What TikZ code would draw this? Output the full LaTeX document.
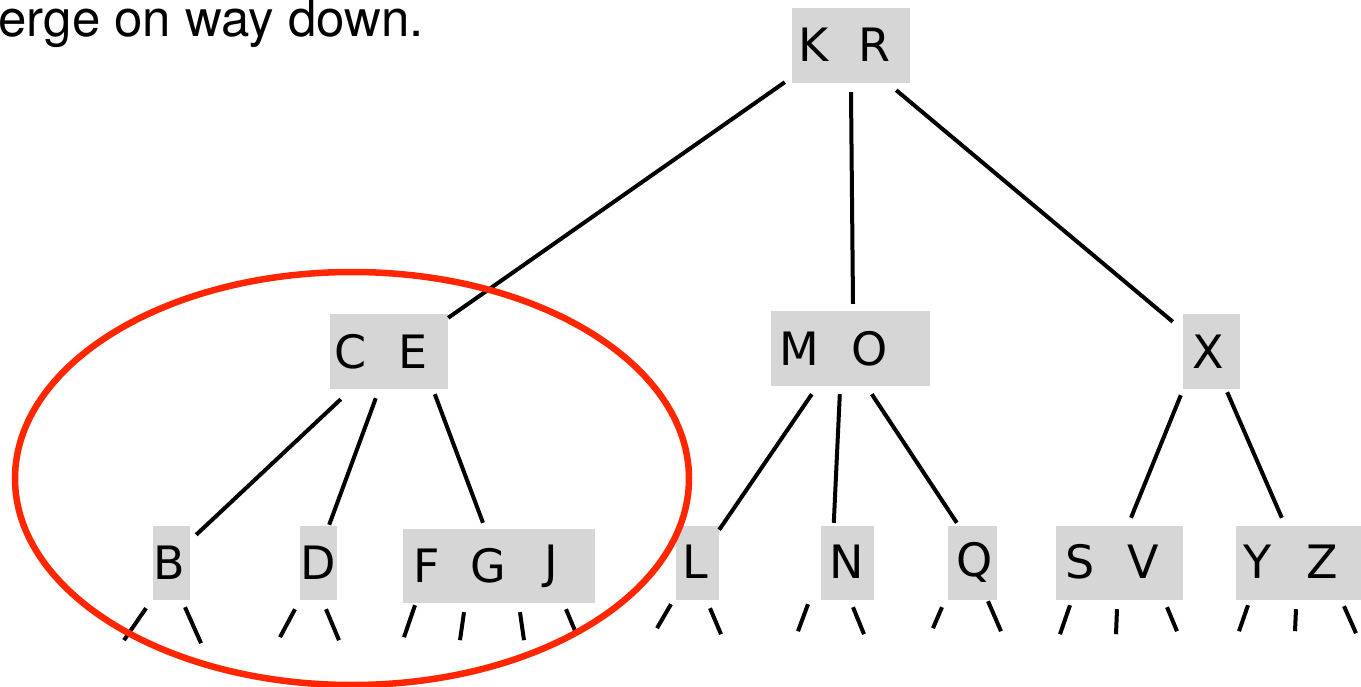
\documentclass[tikz,border=0pt]{standalone}
\usepackage{fontspec}
\setmainfont{DejaVu Sans}
\newfontfamily\headfont{TeX Gyre Heros}
\usetikzlibrary{calc}
\definecolor{boxgray}{HTML}{D6D6D6}
\definecolor{ovalred}{HTML}{FF2600}
\tikzset{
  box/.style={fill=boxgray, draw=none, inner sep=0pt, minimum height=74pt},
  letter/.style={inner sep=0pt, font=\fontsize{46}{46}\selectfont},
  edge/.style={line width=4pt},
  stub/.style={line width=4pt}
}
\begin{document}
\begin{tikzpicture}[x=1pt,y=-1pt]
\useasboundingbox (0,0) rectangle (1361,687);
% heading fragment
\node[anchor=base east, inner sep=0pt, font=\headfont\fontsize{51}{51}\selectfont] (head) at (424,37) {erge on way down.};
% boxes
\node[box, minimum width=118pt, minimum height=75pt] (kr) at (851,45.5) {};
\node[box, minimum width=118pt, minimum height=75pt] (ce) at (389,351.5) {};
\node[box, minimum width=159pt, minimum height=75pt] (mo) at (850.5,348.5) {};
\node[box, minimum width=57pt, minimum height=75pt] (x) at (1211.5,351.5) {};
\node[box, minimum width=37pt] (b) at (171.5,563) {};
\node[box, minimum width=37pt] (d) at (318.5,563) {};
\node[box, minimum width=192pt] (fgj) at (499,566) {};
\node[box, minimum width=43pt] (l) at (697.5,563) {};
\node[box, minimum width=53pt] (n) at (847.5,563) {};
\node[box, minimum width=49pt] (q) at (972.5,563) {};
\node[box, minimum width=127pt] (sv) at (1119.5,563) {};
\node[box, minimum width=125pt] (yz) at (1298.5,563) {};
% letters
\node[letter] (tK) at (814,45) {K};
\node[letter] (tR) at (874,45) {R};
\node[letter] (tC) at (351,352) {C};
\node[letter] (tE) at (413,352) {E};
\node[letter] (tM) at (799,349) {M};
\node[letter] (tO) at (870,349) {O};
\node[letter] (tX) at (1208,352) {X};
\node[letter] (tB) at (169.5,563) {B};
\node[letter] (tD) at (318,563) {D};
\node[letter] (tF) at (427,566) {F};
\node[letter] (tG) at (488,566) {G};
\node[letter] (tJ) at (551,566) {J};
\node[letter] (tL) at (695,562) {L};
\node[letter] (tN) at (847,562) {N};
\node[letter] (tQ) at (975,562) {Q};
\node[letter] (tS) at (1080,562) {S};
\node[letter] (tV) at (1143,562) {V};
\node[letter] (tY) at (1258,562) {Y};
\node[letter] (tZ) at (1322,562) {Z};
% tree edges
\draw[edge] ($(kr.south west)+(-7,-1)$) -- ($(ce.north east)+(0,4)$);
\draw[edge] ($(kr.south)+(0,9)$) -- ($(mo.north)+(2.5,-7)$);
\draw[edge] ($(kr.south east)+(-14,7)$) -- ($(x.north west)+(-10,8)$);
\draw[edge] ($(ce.south west)+(11,10)$) -- ($(b.north east)+(6,9)$);
\draw[edge] ($(ce.south west)+(46,9)$) -- ($(d.north east)+(-8,-1)$);
\draw[edge] ($(ce.south west)+(105,5)$) -- ($(fgj.north)+(-16,-6)$);
\draw[edge] ($(mo.south west)+(41,8)$) -- ($(l.north east)+(0,4)$);
\draw[edge] ($(mo.south west)+(69,8)$) -- ($(n.north west)+(13,-3)$);
\draw[edge] ($(mo.south west)+(101,8)$) -- ($(q.north west)+(9,-3)$);
\draw[edge] ($(x.south west)+(-2,6)$) -- ($(sv.north)+(11.5,-8)$);
\draw[edge] ($(x.south east)+(-13,3)$) -- ($(yz.north west)+(46,-8)$);
% stubs below leaves
\draw[stub] ($(b.south)+(-25.5,8)$) -- ($(b.south)+(-47.5,40)$);
\draw[stub] ($(b.south)+(13.5,7)$) -- ($(b.south)+(29.5,43)$);
\draw[stub] ($(d.south)+(-23.5,9)$) -- ($(d.south)+(-38.5,37)$);
\draw[stub] ($(d.south)+(7.5,9)$) -- ($(d.south)+(20.5,40)$);
\draw[stub] ($(fgj.south)+(-84,2)$) -- ($(fgj.south)+(-95,34)$);
\draw[stub] ($(fgj.south)+(-35,9)$) -- ($(fgj.south)+(-39,37)$);
\draw[stub] ($(fgj.south)+(21,9)$) -- ($(fgj.south)+(25,37)$);
\draw[stub] ($(fgj.south)+(67,6)$) -- ($(fgj.south)+(77,30)$);
\draw[stub] ($(l.south)+(-26.5,4)$) -- ($(l.south)+(-40.5,28)$);
\draw[stub] ($(l.south)+(12.5,8)$) -- ($(l.south)+(23.5,34)$);
\draw[stub] ($(n.south)+(-39.5,4)$) -- ($(n.south)+(-49.5,31)$);
\draw[stub] ($(n.south)+(5.5,7)$) -- ($(n.south)+(16.5,34)$);
\draw[stub] ($(q.south)+(-30.5,7)$) -- ($(q.south)+(-39.5,28)$);
\draw[stub] ($(q.south)+(15.5,1)$) -- ($(q.south)+(28.5,31)$);
\draw[stub] ($(sv.south)+(-49.5,5)$) -- ($(sv.south)+(-59.5,34)$);
\draw[stub] ($(sv.south)+(-2.5,9)$) -- ($(sv.south)+(-3.5,34)$);
\draw[stub] ($(sv.south)+(47.5,7)$) -- ($(sv.south)+(57.5,31)$);
\draw[stub] ($(yz.south)+(-50.5,5)$) -- ($(yz.south)+(-59.5,31)$);
\draw[stub] ($(yz.south)+(-2.5,9)$) -- ($(yz.south)+(-3.5,31)$);
\draw[stub] ($(yz.south)+(45.5,6)$) -- ($(yz.south)+(57.5,33)$);
% red oval
\draw[ovalred, line width=6.5pt] (352,478.5) ellipse [x radius=337, y radius=206.5];
\end{tikzpicture}
\end{document}
